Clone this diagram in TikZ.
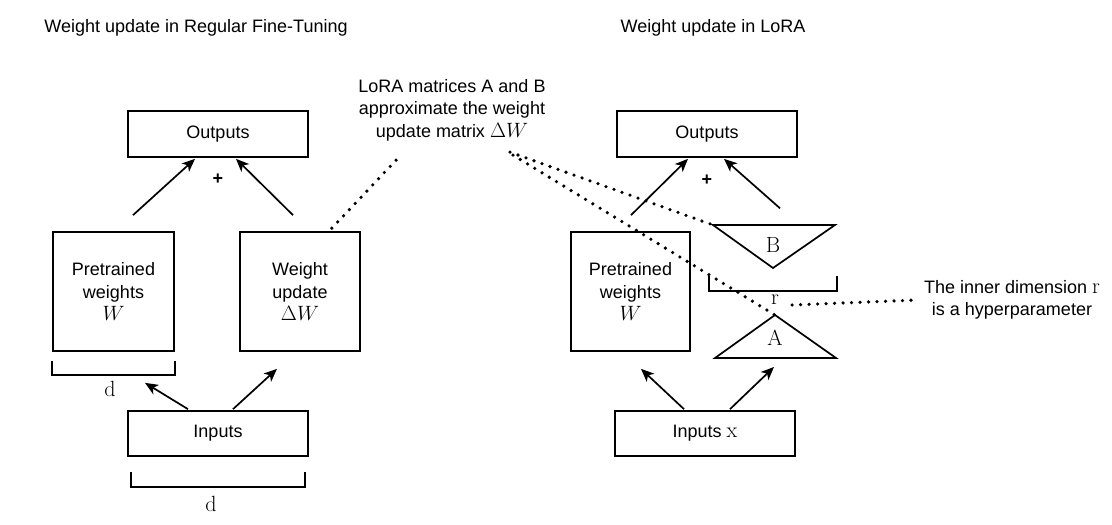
\documentclass[tikz,border=0pt]{standalone}
\usepackage{fontspec}
\setsansfont{Liberation Sans}
\usetikzlibrary{arrows.meta,calc,positioning}

\newcommand{\mathbig}[1]{{\fontsize{22}{22.5}\selectfont$#1$}}

\tikzset{
  box/.style={draw,line width=1.7pt,inner sep=0pt,align=center,
    font=\sffamily\fontsize{18}{22.5}\selectfont},
  lbl/.style={inner sep=0pt,align=center,font=\sffamily\fontsize{18}{22.5}\selectfont},
  sym/.style={inner sep=0pt,font=\rmfamily\fontsize{22}{22}\selectfont},
  arr/.style={line width=1.7pt,-{Stealth[length=13pt,width=11pt,inset=3.5pt]}},
  dots/.style={line width=3.6pt,line cap=round,dash pattern=on 0pt off 8.5pt},
  brk/.style={line width=1.7pt}
}

\begin{document}
\begin{tikzpicture}[x=1pt,y=-1pt]
\useasboundingbox (0,0) rectangle (1112,525);

% regular fine-tuning
\node[lbl] (titL) at (196,28) {Weight update in Regular Fine-Tuning};
\node[box,minimum width=180pt,minimum height=46pt] (outL) at (218,134) {Outputs};
\node[lbl] (plusL) at (218,179) {\textbf{+}};
\node[box,minimum width=121pt,minimum height=119pt] (pre) at (113.5,291.5) {Pretrained\\weights\\\mathbig{W}};
\node[box,minimum width=120pt,minimum height=119pt] (wu) at (300,291.5) {Weight\\update\\\mathbig{\Delta W}};
\node[box,minimum width=180pt,minimum height=45pt] (inL) at (218,433.5) {Inputs};
\draw[brk] ($(pre.south west)+(0,9)$) |- ($(pre.south east)+(0,23)$) -- ($(pre.south east)+(0,9)$);
\node[sym] (dpre) at (110,389) {d};
\draw[brk] ($(inL.south west)+(4,15)$) |- ($(inL.south east)+(-4,30)$) -- ($(inL.south east)+(-4,15)$);
\node[sym] (din) at (211,504) {d};

\draw[arr] ($(pre.north)+(19.5,-16)$) -- ($(outL.south)+(-23,1)$);
\draw[arr] ($(wu.north)+(-7,-16)$) -- ($(outL.south)+(18,1)$);
\draw[arr] ($(inL.north)+(-30,-1)$) -- ($(pre.south)+(31.5,31)$);
\draw[arr] ($(inL.north)+(15,-1)$) -- ($(wu.south)+(-23,17)$);

% note in the middle
\node[lbl] (note) at (452,110) {LoRA matrices A and B\\approximate the weight\\update matrix \mathbig{\Delta W}};
\draw[dots] ($(wu.north east)+(-29,-3)$) -- ($(note.south)+(-53,16)$);

% LoRA
\node[lbl] (titR) at (713,28) {Weight update in LoRA};
\node[box,minimum width=180pt,minimum height=46pt] (outR) at (707,134) {Outputs};
\node[lbl] (plusR) at (707,180) {\textbf{+}};
\node[box,minimum width=119pt,minimum height=119pt] (preR) at (630.5,291.5) {Pretrained\\weights\\\mathbig{W}};
\node[box,minimum width=180pt,minimum height=45pt] (inR) at (705,433.5) {Inputs {\rmfamily\fontsize{22}{22}\selectfont x}};

\coordinate (Bl) at (713,225);
\coordinate (Br) at (835,225);
\coordinate (Bb) at (773,268);
\draw[line width=1.7pt] (Bl) -- (Br) -- (Bb) -- cycle;
\node[sym] (B) at (773,245) {B};
\coordinate (At) at (775,315);
\coordinate (Al) at (715,358);
\coordinate (Ar) at (836,358);
\draw[line width=1.7pt] (At) -- (Ar) -- (Al) -- cycle;
\node[sym] (A) at (775,338) {A};
\draw[brk] (709,276) |- (837,291) -- (837,276);
\node[sym] (r) at (775,300) {r};
\node[lbl] (hyp) at (1012,300) {The inner dimension {\rmfamily\fontsize{22}{22}\selectfont r}\\is a hyperparameter};

\draw[arr] ($(preR.north)+(0.5,-16)$) -- ($(outR.south)+(-19,1)$);
\draw[arr] ($(B.north)+(7,-29)$) -- ($(outR.south)+(17,1)$);
\draw[arr] ($(inR.north)+(-21,-1)$) -- ($(preR.south)+(10.5,17)$);
\draw[arr] ($(inR.north)+(25,-1)$) -- ($(A.south)+(-1,21)$);

\draw[dots] ($(note.south)+(58,11)$) -- (Bl);
\draw[dots] ($(note.south)+(61,14)$) -- (At);
\draw[dots] ($(r.east)+(13,5)$) -- ($(hyp.west)+(-6,0)$);
\end{tikzpicture}
\end{document}
